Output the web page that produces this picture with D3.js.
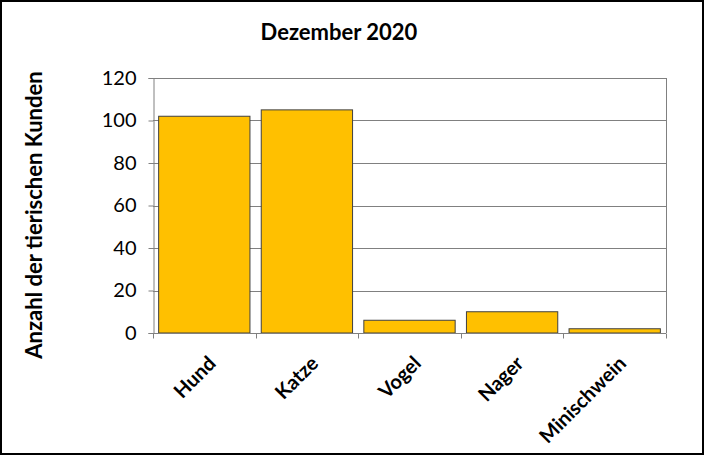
<!DOCTYPE html>
<html><head><meta charset="utf-8">
<script src="https://cdn.jsdelivr.net/npm/d3@7/dist/d3.min.js"></script>
<style>html,body{margin:0;padding:0;background:#fff;}svg{display:block;}</style>
</head><body><svg id="c" width="704" height="455"></svg>
<script>
const categories = ["Hund", "Katze", "Vogel", "Nager", "Minischwein"];
const values = [102, 105, 6, 10, 2];
const yTicks = [0, 20, 40, 60, 80, 100, 120];
const title = "Dezember 2020";
const yTitle = "Anzahl der tierischen Kunden";

const W = 704, H = 455;
const m = {left: 153, right: 38, top: 78, bottom: 122};
const svg = d3.select("#c");
const FONT = "Lato, 'Open Sans', sans-serif";

svg.append("rect").attr("x", 1).attr("y", 1).attr("width", W - 2).attr("height", H - 2)
  .attr("fill", "#fff").attr("stroke", "#000").attr("stroke-width", 2);

const x = d3.scaleBand().domain(categories).range([m.left, W - m.right])
  .paddingInner(0.11).paddingOuter(0.055);
const y = d3.scaleLinear().domain([0, 120]).range([H - m.bottom, m.top]);

// gridlines
svg.append("g").selectAll("line").data(yTicks.filter(d => d > 0)).join("line")
  .attr("x1", m.left).attr("x2", W - m.right)
  .attr("y1", d => Math.round(y(d)) + 0.5).attr("y2", d => Math.round(y(d)) + 0.5)
  .attr("stroke", "#808080").attr("stroke-width", 1);
// right border
svg.append("line").attr("x1", W - m.right + 0.5).attr("x2", W - m.right + 0.5)
  .attr("y1", y(120)).attr("y2", y(0)).attr("stroke", "#808080");

// bars
svg.append("g").selectAll("rect").data(values).join("rect")
  .attr("x", (d, i) => x(categories[i]))
  .attr("width", x.bandwidth())
  .attr("y", d => y(d))
  .attr("height", d => y(0) - y(d))
  .attr("fill", "#ffc000").attr("stroke", "#404040").attr("stroke-width", 1);

// y axis
const ya = svg.append("g").attr("transform", `translate(${m.left + 0.5},0)`)
  .call(d3.axisLeft(y).tickValues(yTicks).tickSize(5).tickPadding(12));
ya.select(".domain").attr("stroke", "#808080");
ya.selectAll(".tick line").attr("stroke", "#808080");
ya.selectAll("text").attr("font-family", FONT).attr("font-size", 20).attr("fill", "#000");

// x axis
const xa = svg.append("g").attr("transform", `translate(0,${Math.round(y(0)) + 0.5})`);
xa.append("line").attr("x1", m.left).attr("x2", W - m.right).attr("stroke", "#808080");
xa.selectAll("line.t").data(d3.range(categories.length + 1)).join("line").attr("class", "t")
  .attr("x1", i => Math.round(m.left + i * (W - m.left - m.right) / categories.length) + 0.5)
  .attr("x2", i => Math.round(m.left + i * (W - m.left - m.right) / categories.length) + 0.5)
  .attr("y1", 0).attr("y2", 5).attr("stroke", "#808080");
svg.append("g").selectAll("text").data(categories).join("text")
  .attr("transform", d => `translate(${x(d) + x.bandwidth() / 2 + 7},${y(0) + 26}) rotate(-45)`)
  .attr("text-anchor", "end").attr("dominant-baseline", "central")
  .attr("font-family", FONT).attr("font-weight", "bold").attr("font-size", 20)
  .attr("fill", "#000").text(d => d);

// title
svg.append("text").attr("x", 339).attr("y", 40).attr("text-anchor", "middle")
  .attr("font-family", FONT).attr("font-weight", "bold").attr("font-size", 22).text(title);
// y title
svg.append("text").attr("transform", `translate(42,215) rotate(-90)`).attr("text-anchor", "middle")
  .attr("font-family", FONT).attr("font-weight", "bold").attr("font-size", 22).text(yTitle);
</script></body></html>
